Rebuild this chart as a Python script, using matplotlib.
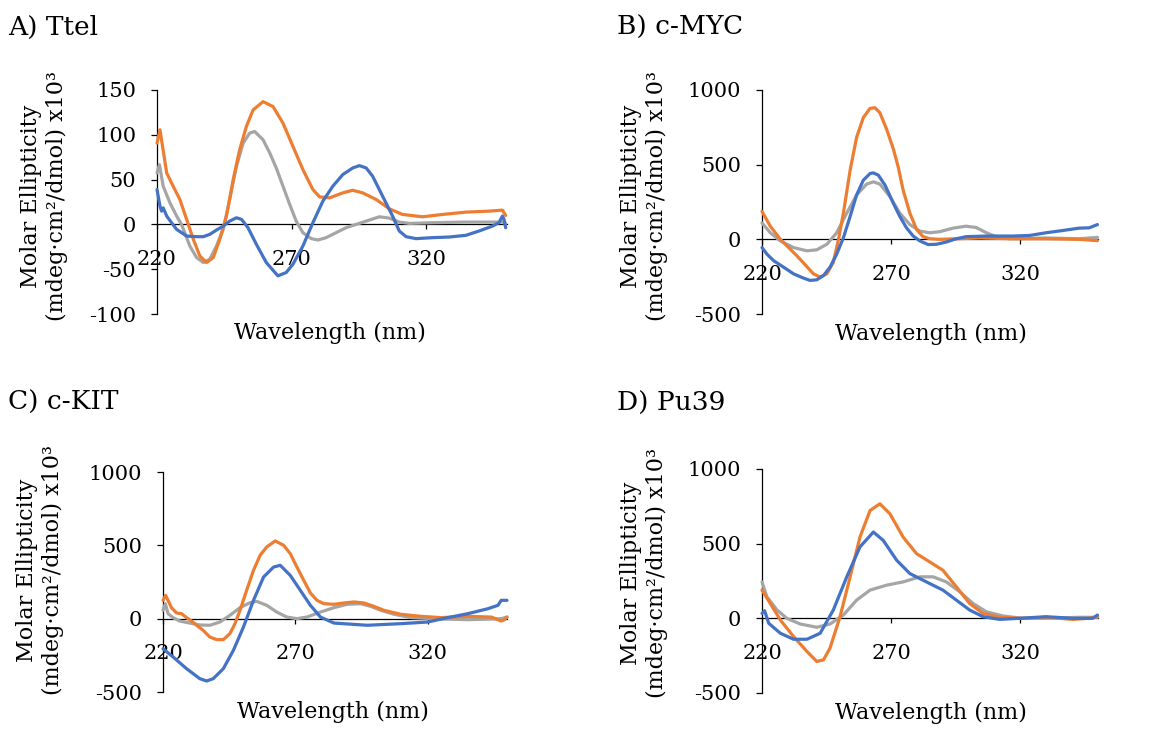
import matplotlib
matplotlib.use("Agg")
import matplotlib.pyplot as plt

plt.rcParams['font.family'] = ['DejaVu Serif']
plt.rcParams['axes.unicode_minus'] = False

ORANGE = '#ED7D31'
GRAY = '#A5A5A5'
BLUE = '#4472C4'

# ---------------- Panel A: Ttel ----------------
A_orange_wl = [220.0, 221.1, 223.6, 226.0, 228.5, 231.0, 233.5, 235.9, 238.4, 240.9, 243.3, 245.8, 248.3,
               250.7, 253.2, 255.7, 259.4, 263.1, 266.8, 270.5, 274.2, 277.9, 280.4, 284.1, 289.0, 292.7,
               296.4, 301.4, 306.3, 311.2, 318.6, 326.0, 334.7, 343.3, 348.3, 349.5]
A_orange = [90.7, 105.6, 57.4, 42.6, 27.8, 5.6, -16.7, -35.2, -42.6, -37.0, -16.7, 9.3, 50.0,
            83.3, 109.3, 127.8, 137.0, 131.5, 113.0, 87.0, 61.1, 38.9, 30.7, 29.6, 35.2, 38.1,
            35.2, 27.8, 17.4, 11.1, 8.5, 11.1, 13.7, 14.8, 15.9, 10.0]
A_gray_wl = [220.0, 220.9, 222.3, 224.8, 227.3, 229.1, 232.2, 234.7, 237.2, 239.6, 242.1, 244.6, 247.0,
             249.5, 252.0, 254.4, 256.3, 259.4, 261.9, 264.3, 266.8, 269.3, 271.7, 274.2, 277.3, 279.8,
             282.8, 286.5, 290.2, 294.0, 297.7, 302.6, 306.3, 310.0, 313.7, 322.3, 334.7, 348.3, 349.5]
A_gray = [57.4, 66.7, 42.6, 24.1, 9.3, 0.0, -24.1, -37.0, -42.6, -38.9, -24.1, -5.6, 27.8,
          64.8, 90.7, 101.9, 103.7, 94.4, 79.6, 63.0, 42.6, 22.2, 3.7, -9.3, -15.9, -17.4,
          -14.8, -9.3, -3.7, 0.0, 3.7, 8.5, 7.0, 2.6, 1.1, 1.9, 2.6, 2.6, 1.1]
A_blue_wl = [220.0, 221.1, 221.7, 222.3, 223.6, 225.4, 227.3, 231.0, 234.7, 237.2, 239.6, 242.1, 244.6,
             247.0, 249.5, 251.4, 253.8, 256.9, 260.6, 264.9, 268.0, 270.5, 274.2, 277.9, 281.6, 285.3,
             289.0, 292.7, 295.2, 297.7, 300.1, 303.8, 307.5, 310.0, 312.5, 316.2, 322.3, 328.5, 334.7,
             339.6, 344.6, 347.0, 348.3, 348.9, 349.5]
A_blue = [38.9, 20.4, 14.8, 18.5, 9.3, 1.9, -5.6, -13.0, -13.7, -13.7, -11.1, -6.3, -1.9,
          3.7, 7.4, 5.6, -3.7, -22.2, -42.6, -57.4, -53.7, -44.4, -24.1, 1.9, 25.9, 42.6,
          55.6, 63.0, 65.6, 63.0, 53.7, 31.5, 9.3, -7.4, -13.7, -15.9, -14.8, -14.1, -12.2,
          -7.4, -1.9, 1.9, 9.3, 5.6, -3.7]

# ---------------- Panel B: c-MYC ----------------
B_orange_wl = [220.0, 223.2, 227.1, 233.5, 239.9, 242.5, 245.1, 247.6, 249.6, 251.5, 254.1, 256.6, 259.2,
               261.8, 263.7, 265.6, 268.2, 270.8, 272.7, 274.6, 277.2, 279.8, 282.3, 284.9, 288.8, 304.2,
               317.0, 329.9, 342.7, 349.8]
B_orange = [187, 88, 0, -110, -231, -253, -231, -154, 0, 176, 463, 683, 815,
            877, 881, 848, 738, 606, 485, 330, 176, 66, 18, 4, 0, 9,
            4, 4, 0, -9]
B_gray_wl = [220.0, 223.2, 227.1, 232.2, 237.4, 241.2, 245.1, 248.9, 252.8, 256.6, 260.5, 263.1, 265.6,
             269.5, 273.3, 277.2, 281.1, 284.9, 288.8, 293.9, 299.0, 302.9, 306.8, 310.6, 315.8, 329.9,
             342.7, 349.8]
B_gray = [110, 44, -11, -55, -77, -70, -33, 44, 176, 297, 370, 385, 370,
          286, 176, 99, 55, 44, 51, 75, 88, 79, 44, 18, 4, 9,
          4, 13]
B_blue_wl = [220.0, 221.9, 224.5, 228.4, 232.2, 236.1, 238.6, 241.2, 243.8, 246.3, 248.9, 251.5, 254.1,
             256.6, 259.2, 261.8, 263.1, 265.0, 267.6, 270.8, 273.3, 275.9, 278.5, 281.1, 284.3, 287.5,
             291.3, 295.2, 299.0, 306.8, 317.0, 323.5, 329.9, 336.3, 342.7, 346.6, 349.8]
B_blue = [-55, -99, -143, -187, -231, -260, -275, -271, -242, -187, -99, 11, 154,
          297, 396, 441, 445, 430, 363, 242, 154, 77, 22, -11, -35, -33,
          -18, 4, 18, 22, 22, 26, 44, 59, 75, 77, 99]

# ---------------- Panel C: c-KIT ----------------
C_orange_wl = [220.0, 221.0, 221.9, 223.2, 225.1, 227.0, 228.9, 230.8, 232.7, 235.2, 237.7, 240.3, 242.8,
               245.3, 247.2, 249.1, 251.6, 254.2, 256.7, 259.2, 262.4, 265.6, 268.1, 270.6, 273.2, 275.7,
               278.2, 280.8, 284.6, 288.4, 292.2, 295.9, 299.7, 303.5, 309.9, 317.5, 325.1, 335.2, 344.1,
               347.8, 349.1, 350.0]
C_orange = [125, 159, 125, 75, 39, 34, 7, -16, -45, -80, -125, -143, -143,
            -102, -34, 57, 193, 330, 432, 489, 530, 500, 443, 352, 261, 175,
            125, 102, 98, 107, 114, 107, 84, 57, 30, 16, 7, 16, 11,
            -16, -7, 11]
C_gray_wl = [220.0, 220.9, 221.9, 223.8, 226.3, 230.1, 233.9, 237.7, 241.5, 245.3, 249.1, 252.9, 255.4,
             259.2, 263.0, 266.8, 270.6, 274.4, 279.5, 284.6, 289.6, 294.7, 298.5, 302.3, 307.3, 313.7,
             322.5, 335.2, 347.8, 350.0]
C_gray = [57, 102, 34, 7, -16, -30, -43, -45, -23, 23, 75, 109, 118,
          91, 45, 11, 0, 11, 45, 75, 98, 102, 84, 57, 30, 7,
          0, -7, 0, 11]
C_blue_wl = [220.0, 223.8, 228.9, 233.9, 236.5, 239.0, 242.8, 246.6, 250.4, 254.2, 258.0, 261.8, 264.3,
             268.1, 271.9, 275.7, 279.5, 284.6, 297.2, 309.9, 320.0, 327.6, 335.2, 342.8, 346.6, 347.8,
             350.0]
C_blue = [-205, -261, -341, -409, -425, -409, -341, -216, -57, 125, 284, 352, 364,
          295, 193, 91, 11, -30, -45, -34, -23, 7, 34, 68, 91, 125,
          125]

# ---------------- Panel D: Pu39 ----------------
D_orange_wl = [220.0, 223.2, 227.1, 232.2, 237.4, 241.2, 243.8, 246.3, 250.2, 254.1, 257.9, 261.8, 265.6,
               269.5, 274.6, 279.8, 284.9, 290.0, 295.2, 300.3, 305.5, 311.9, 319.6, 329.9, 340.2, 346.6,
               349.8]
D_orange = [189, 100, -11, -122, -222, -289, -278, -200, 11, 278, 544, 722, 767,
            700, 544, 433, 378, 322, 211, 100, 33, 7, 0, 7, -7, 0,
            11]
D_gray_wl = [220.0, 221.9, 225.8, 229.6, 234.8, 241.2, 246.3, 251.5, 256.6, 261.8, 268.2, 274.6, 281.1,
             286.2, 291.3, 296.5, 301.6, 306.8, 313.2, 320.9, 329.9, 342.7, 349.8]
D_gray = [244, 144, 56, 0, -38, -60, -38, 22, 122, 189, 222, 244, 278,
          278, 244, 178, 100, 44, 16, 0, 0, 7, 7]
D_blue_wl = [220.0, 221.0, 222.6, 227.1, 232.2, 237.4, 242.5, 247.6, 252.8, 257.9, 263.1, 266.9, 272.1,
             277.2, 283.6, 290.0, 295.2, 300.3, 305.5, 311.9, 319.6, 329.9, 340.2, 347.9, 349.8]
D_blue = [33, 51, -33, -100, -140, -140, -100, 56, 278, 478, 578, 522, 389,
          300, 244, 189, 122, 56, 11, -7, 0, 11, 0, 0, 22]

titles = ['A) Ttel', 'B) c-MYC', 'C) c-KIT', 'D) Pu39']
x_ticks = [220, 270, 320]
A_yticks = [-100, -50, 0, 50, 100, 150]
BCD_yticks = [-500, 0, 500, 1000]
y_label = 'Molar Ellipticity\n(mdeg·cm\u00b2/dmol) x10\u00b3'
x_label = 'Wavelength (nm)'

W, H = 1151, 729
fig = plt.figure(figsize=(W / 100, H / 100), dpi=100)


def px_axes(left, right, top, bottom):
    return fig.add_axes([left / W, 1 - bottom / H, (right - left) / W, (bottom - top) / H])


panels = [
    dict(box=(157, 507, 90, 314), yticks=A_yticks,
         series=[(A_gray_wl, A_gray), (A_orange_wl, A_orange), (A_blue_wl, A_blue)],
         title_xy=(8, 27), ylab_xy=(44, 196), xlab_xy=(330, 333)),
    dict(box=(762, 1098, 90, 314), yticks=BCD_yticks,
         series=[(B_gray_wl, B_gray), (B_orange_wl, B_orange), (B_blue_wl, B_blue)],
         title_xy=(617, 27), ylab_xy=(644, 196), xlab_xy=(931, 334)),
    dict(box=(163, 507, 472, 692), yticks=BCD_yticks,
         series=[(C_gray_wl, C_gray), (C_orange_wl, C_orange), (C_blue_wl, C_blue)],
         title_xy=(8, 402), ylab_xy=(40, 570), xlab_xy=(333, 712)),
    dict(box=(762, 1098, 469, 693), yticks=BCD_yticks,
         series=[(D_gray_wl, D_gray), (D_orange_wl, D_orange), (D_blue_wl, D_blue)],
         title_xy=(617, 403), ylab_xy=(644, 573), xlab_xy=(931, 713)),
]

colors = [GRAY, ORANGE, BLUE]

for p, title in zip(panels, titles):
    ax = px_axes(*p['box'])
    for (wl, vals), c in zip(p['series'], colors):
        ax.plot(wl, vals, color=c, lw=2.3, solid_joinstyle='round', solid_capstyle='round',
                zorder=3, clip_on=False)
    ax.set_xlim(220, 350)
    yt = p['yticks']
    ax.set_ylim(yt[0], yt[-1])
    ax.set_xticks(x_ticks)
    ax.set_yticks(yt)
    ax.set_xticklabels([str(t) for t in x_ticks])
    ax.set_yticklabels([str(t) for t in yt])
    for s in ['top', 'right']:
        ax.spines[s].set_visible(False)
    ax.spines['bottom'].set_position(('data', 0))
    ax.spines['bottom'].set_color('#000000')
    ax.spines['left'].set_color('#000000')
    ax.spines['bottom'].set_linewidth(0.9)
    ax.spines['left'].set_linewidth(0.9)
    ax.spines['bottom'].set_zorder(1)
    ax.tick_params(axis='y', direction='out', length=4.5, width=0.9, pad=10.5, labelsize=15,
                   colors='#000000')
    ax.tick_params(axis='x', direction='out', length=3.8, width=0.9, pad=14.5, labelsize=15,
                   colors='#000000')
    ax.patch.set_visible(False)

    tx, ty = p['title_xy']
    fig.text(tx / W, 1 - ty / H, title, fontsize=19, ha='left', va='center')
    lx, ly = p['ylab_xy']
    fig.text(lx / W, 1 - ly / H, y_label,
             fontsize=16, rotation=90, ha='center', va='center', ma='center', linespacing=1.2)
    xx, xy = p['xlab_xy']
    fig.text(xx / W, 1 - xy / H, x_label, fontsize=16, ha='center', va='center')

fig.savefig('out.png', dpi=100, facecolor='white')
